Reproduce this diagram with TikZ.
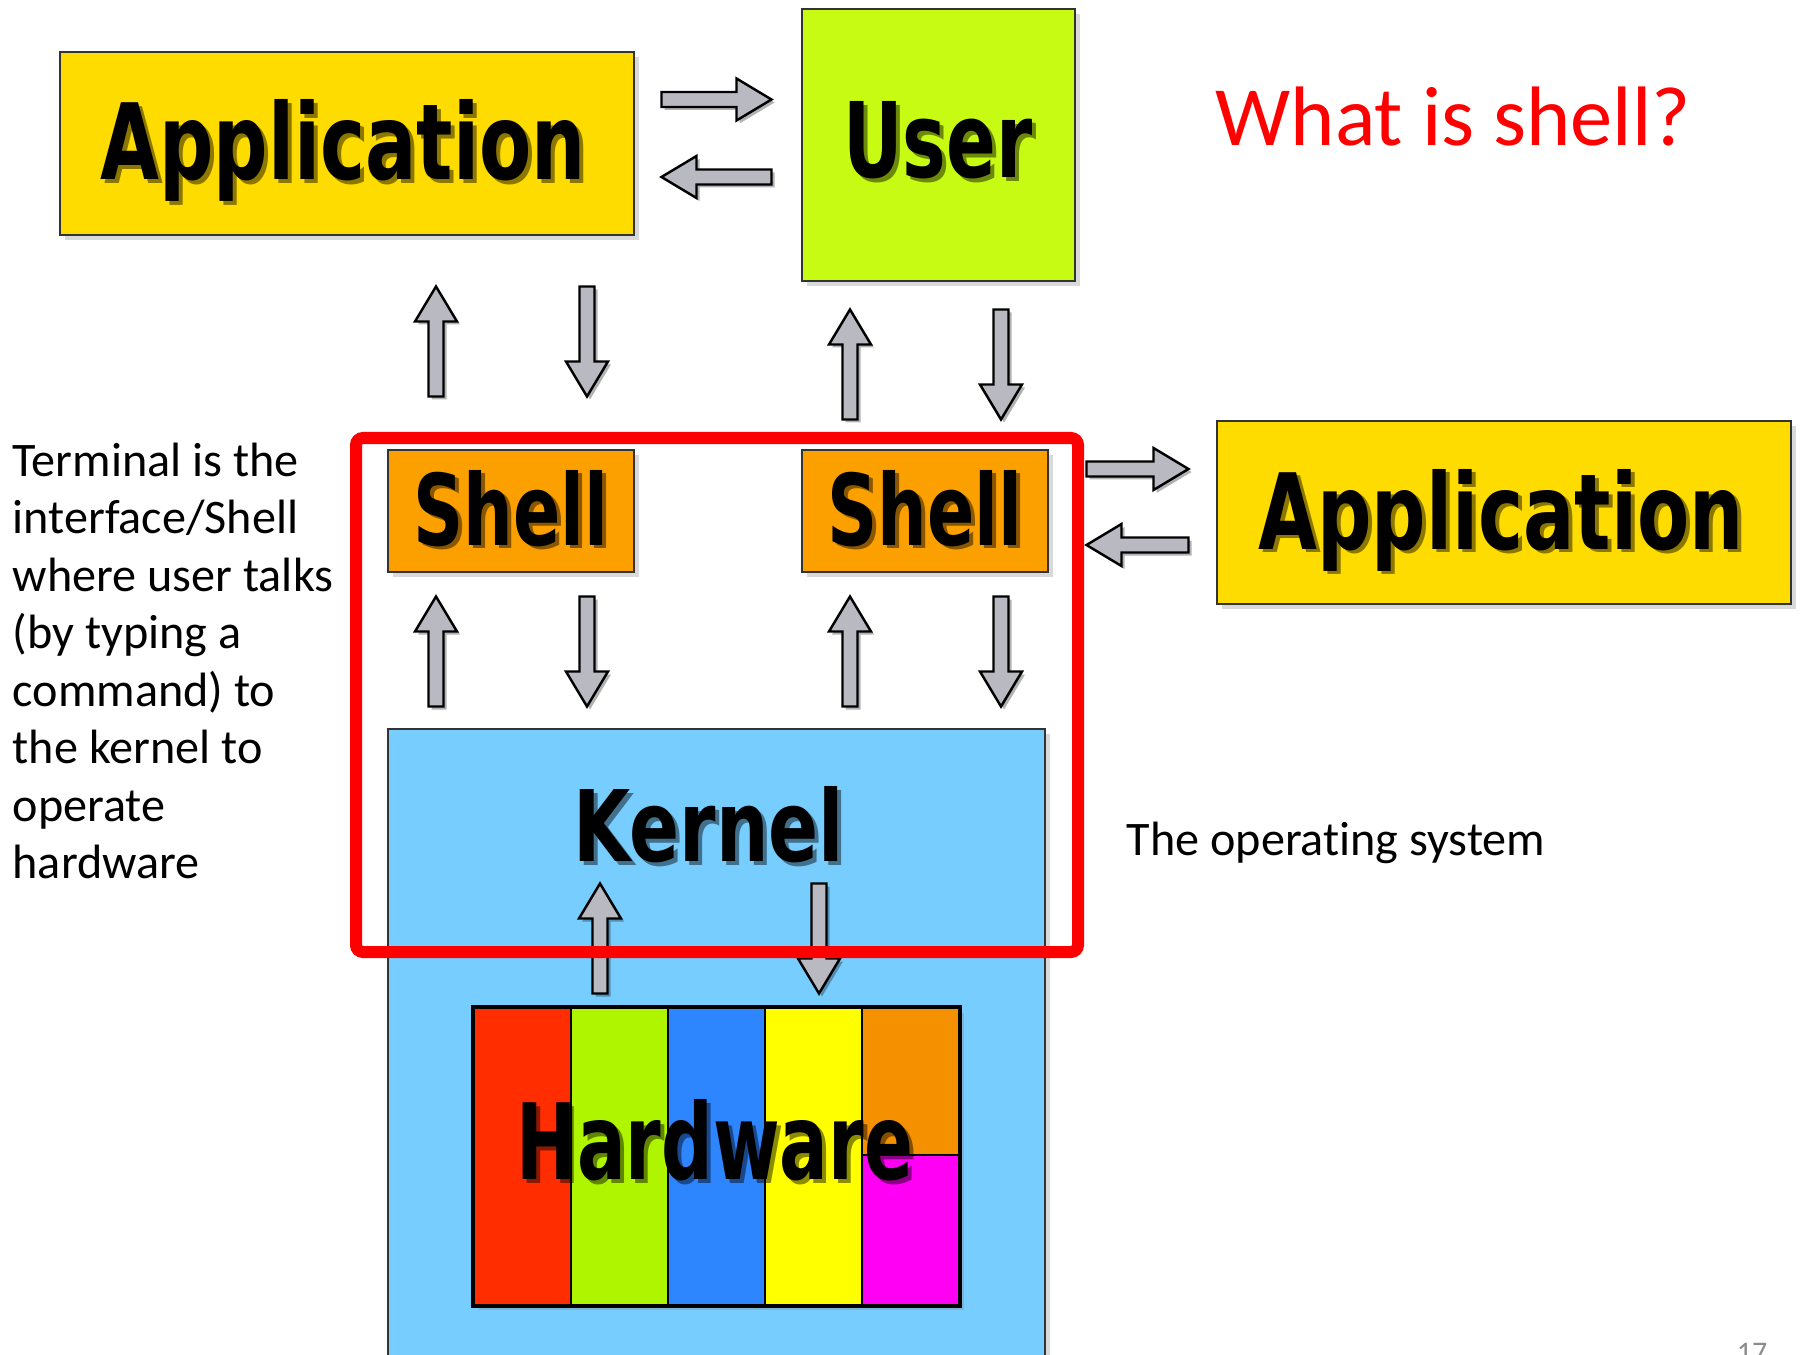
\documentclass[tikz,border=0pt]{standalone}
\usepackage{fontspec}
\setmainfont{Carlito}[Ligatures=NoCommon]
\newfontfamily\boxfont{DejaVu Sans Condensed}
\usepackage{graphicx}
\usetikzlibrary{shadows,positioning}

\definecolor{appyellow}{HTML}{FFDC00}
\definecolor{userlime}{HTML}{C8FB14}
\definecolor{shellorange}{HTML}{FCA000}
\definecolor{kernelblue}{HTML}{78CDFF}
\definecolor{arrowgray}{HTML}{B9B9C1}
\definecolor{hwred}{HTML}{FF2D00}
\definecolor{hwgreen}{HTML}{B0F500}
\definecolor{hwblue}{HTML}{2E86FF}
\definecolor{hwyellow}{HTML}{FFFF00}
\definecolor{hworange}{HTML}{F59100}
\definecolor{hwmagenta}{HTML}{FF00F5}

\tikzset{
  box/.style={draw=black!80, line width=0.6pt, inner sep=0pt,
    drop shadow={shadow xshift=1.4pt, shadow yshift=-1.4pt, opacity=0.3}},
  word/.style={inner sep=0pt, anchor=base, font=\boxfont\bfseries},
  pics/barrow/.style 2 args={code={
    \fill[black, opacity=0.3, shift={(3,3)}, rotate=#1]
      (-#2,-7.5) -- ({#2-35},-7.5) -- ({#2-35},-21) -- (#2,0) -- ({#2-35},21) -- ({#2-35},7.5) -- (-#2,7.5) -- cycle;
    \filldraw[draw=black, line width=0.7pt, fill=arrowgray, rotate=#1]
      (-#2,-7.5) -- ({#2-35},-7.5) -- ({#2-35},-21) -- (#2,0) -- ({#2-35},21) -- ({#2-35},7.5) -- (-#2,7.5) -- cycle;
  }}
}

% big label with its shadow: name, x, y, width, height, text
\newcommand{\bigword}[6]{%
  \node[word, opacity=0.45] at ({#2+4},{#3+4}) {\resizebox{#4}{#5}{#6}};
  \node[word] (#1) at (#2,#3) {\resizebox{#4}{#5}{#6}};}

\begin{document}
\begin{tikzpicture}[x=0.01cm,y=-0.01cm]
\useasboundingbox (0,0) rectangle (1800,1355);

% boxes
\node[box, fill=appyellow, minimum width=5.74cm, minimum height=1.83cm] (app1) at (347,143.5) {};
\node[box, fill=userlime, minimum width=2.73cm, minimum height=2.72cm] (user) at (938.5,145) {};
\node[box, fill=appyellow, minimum width=5.74cm, minimum height=1.83cm] (app2) at (1504,512.5) {};
\node[box, fill=shellorange, minimum width=2.46cm, minimum height=1.22cm] (shell1) at (511,511) {};
\node[box, fill=shellorange, minimum width=2.46cm, minimum height=1.22cm] (shell2) at (925,511) {};
\node[box, fill=kernelblue, minimum width=6.57cm, minimum height=6.5cm, anchor=north] (kernel) at (716.5,728) {};

% hardware
\node[box, draw=black, fill=white, minimum width=4.85cm, minimum height=2.97cm] (hw) at (716.5,1156.5) {};
\foreach \c [count=\i from 0] in {hwred,hwgreen,hwblue,hwyellow}
  \fill[\c] ({474+97*\i},1008) rectangle ++(97,297);
\fill[hworange] (862,1008) rectangle (959,1155);
\fill[hwmagenta] (862,1155) rectangle (959,1305);
\foreach \x in {571,668,765,862}
  \draw[line width=0.6pt] (\x,1008) -- (\x,1305);
\draw[line width=0.6pt] (862,1155) -- (959,1155);
\draw[line width=1.3pt] (hw.north west) rectangle (hw.south east);

% labels
\bigword{app1txt}{343}{180}{4.85cm}{0.80cm}{Application}
\bigword{usertxt}{938}{178}{1.89cm}{0.76cm}{User}
\bigword{app2txt}{1501}{549}{4.85cm}{0.80cm}{Application}
\bigword{shell1txt}{511}{545}{1.95cm}{0.75cm}{Shell}
\bigword{shell2txt}{925}{545}{1.95cm}{0.75cm}{Shell}
\bigword{kerneltxt}{709}{861}{2.70cm}{0.75cm}{Kernel}
\bigword{hwtxt}{715}{1179}{3.96cm}{0.80cm}{Hardware}

% arrows
\pic at (716.5,99.5) {barrow={0}{55}};
\pic at (716.5,177) {barrow={180}{55}};
\pic at (1137.5,469) {barrow={0}{51}};
\pic at (1137.5,545) {barrow={180}{51}};
\foreach \x/\y in {436/341.5, 850/364.5, 436/651.5, 850/651.5, 600/938.5}
  \pic at (\x,\y) {barrow={90}{55}};
\foreach \x/\y in {587/341.5, 1001/364.5, 587/651.5, 1001/651.5, 819/938.5}
  \pic at (\x,\y) {barrow={-90}{55}};

% the shell frame
\draw[red, line width=0.12cm, rounded corners=2pt] (356,438) rectangle (1078,952);

% texts
\node[anchor=base west, inner sep=0pt, text=red, font=\fontsize{24}{29}\selectfont] (question) at (1215,146) {What is shell?};
\node[anchor=north west, inner sep=0pt, align=left, font=\fontsize{13.7}{16.36}\selectfont] (terminal) at (12,442)
  {Terminal is the\\interface/Shell\\where user talks\\(by typing a\\command) to\\the kernel to\\operate\\hardware};
\node[anchor=base west, inner sep=0pt, font=\fontsize{13.7}{17}\selectfont] (os) at (1126,855) {The operating system};
\node[anchor=north, inner sep=0pt, text=black!45, font=\fontsize{8.5}{10}\selectfont] (pagenum) at (1752,1343) {17};

\end{tikzpicture}
\end{document}
